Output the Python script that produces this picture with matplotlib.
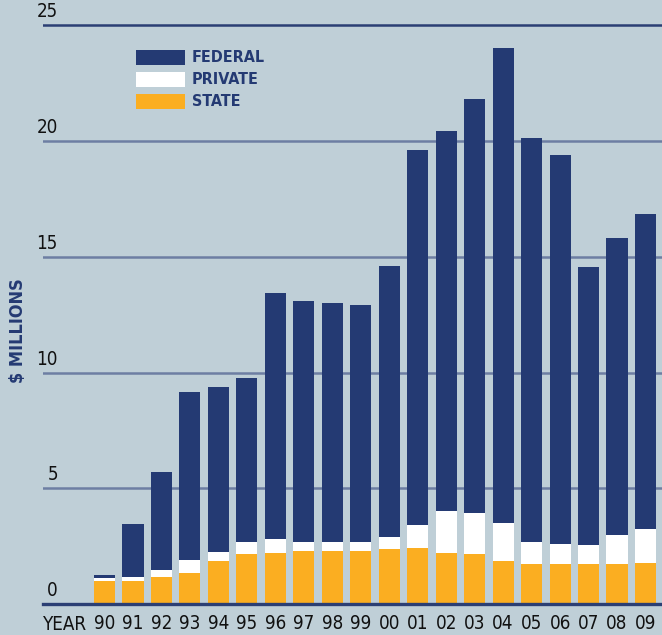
import matplotlib
matplotlib.use("Agg")
import matplotlib.pyplot as plt
from matplotlib import font_manager
from matplotlib.font_manager import FontProperties
from matplotlib.patches import Rectangle
import os

years = ["90", "91", "92", "93", "94", "95", "96", "97", "98", "99",
         "00", "01", "02", "03", "04", "05", "06", "07", "08", "09"]
state = [1.00, 1.00, 1.18, 1.35, 1.87, 2.17, 2.22, 2.30, 2.29, 2.29,
         2.37, 2.42, 2.20, 2.16, 1.86, 1.73, 1.73, 1.73, 1.73, 1.77]
private = [0.13, 0.17, 0.30, 0.56, 0.39, 0.52, 0.60, 0.39, 0.39, 0.39,
           0.52, 0.99, 1.82, 1.77, 1.64, 0.95, 0.86, 0.82, 1.25, 1.47]
federal = [0.14, 2.30, 4.23, 7.26, 7.12, 7.08, 10.62, 10.41, 10.33, 10.24,
           11.72, 16.21, 16.42, 17.89, 20.52, 17.45, 16.81, 12.02, 12.84, 13.61]
yticks = [0, 5, 10, 15, 20, 25]
series_names = ["FEDERAL", "PRIVATE", "STATE"]

BG = "#BFCFD7"
NAVY = "#243A73"
ORANGE = "#FBAE21"
WHITE = "#FFFFFF"
GRID = "#6D7EA3"
DARK = "#2B3F74"

files = [f.fname for f in font_manager.fontManager.ttflist]
files += font_manager.findSystemFonts()
def pick(keys):
    for k in keys:
        for fn in files:
            if os.path.basename(fn).lower() == k.lower():
                return fn
    return None
reg_file = pick(["LiberationSansNarrow-Regular.ttf", "DejaVuSansCondensed.ttf",
                 "RobotoCondensed-Regular.ttf", "OpenSans_Condensed-Regular.ttf"])
bold_file = pick(["LiberationSansNarrow-Bold.ttf", "DejaVuSansCondensed-Bold.ttf",
                  "RobotoCondensed-Bold.ttf", "OpenSans_Condensed-Bold.ttf"])
def fp(size, bold=False):
    f = bold_file if bold else reg_file
    if f:
        return FontProperties(fname=f, size=size)
    return FontProperties(family="DejaVu Sans", size=size,
                          weight="bold" if bold else "normal", stretch="condensed")
narrow = reg_file is not None and "narrow" in os.path.basename(reg_file).lower()
S = 14 if narrow else 13.5
SL = 13 if narrow else 11.5

W, H = 662, 635
fig = plt.figure(figsize=(W / 100, H / 100), dpi=100)
fig.patch.set_facecolor(BG)

x0, base_px, px_per = 43, 604.3, 23.16
ytop = 25.3
ax = fig.add_axes([x0 / W, (H - base_px) / H, (W - x0) / W, ytop * px_per / H])
ax.set_facecolor(BG)
ax.set_xlim(-2.16, 19.58)
ax.set_ylim(0, ytop)
for s in ax.spines.values():
    s.set_visible(False)
ax.set_xticks([])
ax.set_yticks([])

x = list(range(len(years)))
bw = 0.74
bottom_fed = [a + b for a, b in zip(state, private)]
ax.bar(x, state, bw, color=ORANGE, zorder=3, linewidth=0)
ax.bar(x, private, bw, bottom=state, color=WHITE, zorder=3, linewidth=0)
ax.bar(x, federal, bw, bottom=bottom_fed, color=NAVY, zorder=3, linewidth=0)

PT = 0.72  # points per pixel at dpi 100
for v in yticks:
    if v == 0:
        ax.axhline(0, color=DARK, lw=2.4, zorder=4, clip_on=False)
    elif v == 25:
        ax.axhline(v, color=DARK, lw=1.8, zorder=1)
    else:
        ax.axhline(v, color=GRID, lw=1.8, zorder=1)
    ax.annotate(str(v), xy=(0, v), xycoords=("axes fraction", "data"),
                xytext=(15 * PT, 4.0 * PT), textcoords="offset points",
                ha="right", va="bottom", fontproperties=fp(S), color="#111111")

for i, yl in zip(x, years):
    ax.annotate(yl, xy=(i, 0), xycoords="data", xytext=(0, -19.5 * PT),
                textcoords="offset points", ha="center", va="center",
                fontproperties=fp(S), color="#111111")
fig.text(x0 / W, 1 - 624 / H, "YEAR", ha="left", va="center",
         fontproperties=fp(S), color="#111111")

fig.text(18 / W, 1 - 331 / H, "$ MILLIONS", rotation=90, ha="center",
         va="center", fontproperties=fp(13, bold=True), color=NAVY)

leg_colors = [NAVY, WHITE, ORANGE]
leg_tops = [50, 72, 94]
for name, col, t in zip(series_names, leg_colors, leg_tops):
    fig.patches.append(Rectangle((136 / W, 1 - (t + 15) / H), 49 / W, 15 / H,
                                 transform=fig.transFigure, facecolor=col,
                                 edgecolor="none"))
    fig.text(192 / W, 1 - (t + 7.5) / H, name, ha="left", va="center",
             fontproperties=fp(SL, bold=True), color=NAVY)

fig.savefig("out.png", dpi=100, facecolor=BG)
